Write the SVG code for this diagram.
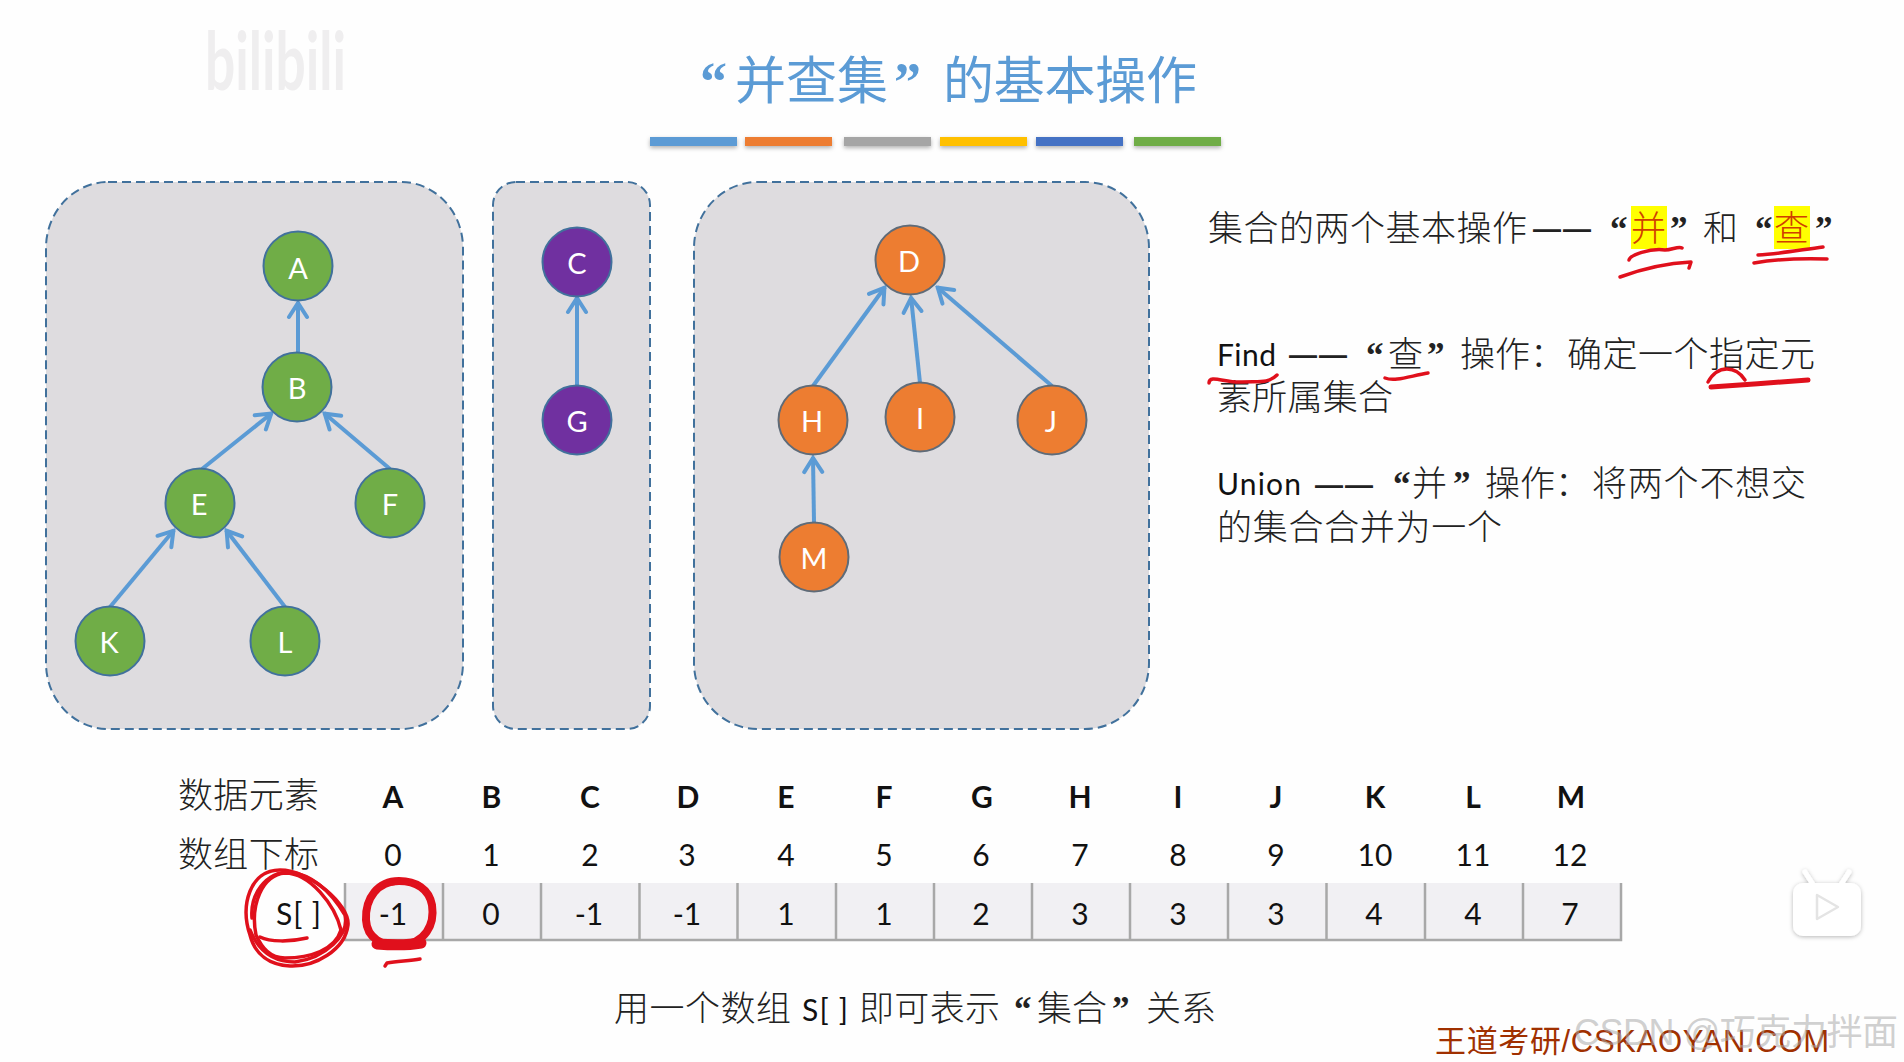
<svg xmlns="http://www.w3.org/2000/svg" width="1904" height="1062" viewBox="0 0 1904 1062">
<style>
.cjk{font-family:"Noto Sans CJK SC","Noto Sans",sans-serif;font-size:35px;font-weight:300;fill:#222}
.q{font-family:"Liberation Serif",serif;font-size:35px;font-weight:700;fill:#222}
.d{font-family:"Liberation Sans",sans-serif;font-size:28px;font-weight:700;letter-spacing:2px;fill:#222}
.lat{font-family:Lato,"Liberation Sans",sans-serif;font-size:30px;fill:#111}
.b{font-family:Lato,"Liberation Sans",sans-serif;font-size:30px;font-weight:700;fill:#111;text-anchor:middle}
.c{text-anchor:middle}
.title{font-family:"Noto Sans CJK SC",sans-serif;font-size:51px;fill:#5b9bd5}
.tq{font-family:"Liberation Serif",serif;font-size:54px;font-weight:700;fill:#5b9bd5}
.box{fill:#dedcdf;stroke:#41719c;stroke-width:2;stroke-dasharray:9 5}
.n{stroke:#41719c;stroke-width:2}
.g{fill:#70ad47}.p{fill:#7030a0}.o{fill:#ed7d31;stroke:#5f6b78}
.nt{font-family:Lato,"Liberation Sans",sans-serif;font-size:29px;fill:#fff;text-anchor:middle}
.e{fill:none;stroke:#5b9bd5;stroke-width:4;marker-end:url(#arr)}
.cell{fill:#f1f0f3}
.div{stroke:#a8a8a8;stroke-width:2.5;fill:none}
.red{fill:none;stroke:#e0101c;stroke-width:3.500;stroke-linecap:round;stroke-linejoin:round}
.bar{filter:url(#sh)}
.hi{fill:#d04000}
</style>
<defs>
<marker id="arr" markerUnits="userSpaceOnUse" viewBox="-18 -13 20 26" markerWidth="20" markerHeight="26" refX="0" refY="0" orient="auto"><path d="M-15,-9 L-1,0 L-15,9" fill="none" stroke="#5b9bd5" stroke-width="4" stroke-linecap="round"/></marker>
<filter id="sh" x="-10%" y="-50%" width="120%" height="220%"><feDropShadow dx="0" dy="2" stdDeviation="2" flood-color="#000" flood-opacity=".3"/></filter>
<filter id="sh2" x="-20%" y="-20%" width="140%" height="140%"><feDropShadow dx="0" dy="1" stdDeviation="2" flood-color="#000" flood-opacity=".28"/></filter>
</defs>
<rect width="1904" height="1062" fill="#fefefe"/>
<text x="205" y="90" font-family="Lato,sans-serif" font-size="80" font-weight="700" fill="#efeeef" textLength="141" lengthAdjust="spacingAndGlyphs">bilibili</text>

<g id="title">
<text class="tq" x="700" y="100">“</text>
<text class="title" x="735" y="99" textLength="153">并查集</text>
<text class="tq" x="894" y="100">”</text>
<text class="title" x="943" y="99" textLength="254">的基本操作</text>
</g>
<g id="bars">
<rect class="bar" x="650" y="137" width="87" height="9" fill="#5b9bd5"/>
<rect class="bar" x="745" y="137" width="87" height="9" fill="#ed7d31"/>
<rect class="bar" x="844" y="137" width="87" height="9" fill="#a5a5a5"/>
<rect class="bar" x="940" y="137" width="87" height="9" fill="#ffc000"/>
<rect class="bar" x="1036" y="137" width="87" height="9" fill="#4472c4"/>
<rect class="bar" x="1134" y="137" width="87" height="9" fill="#70ad47"/>
</g>

<g id="set1"><rect class="box" x="46" y="182" width="417" height="547" rx="62" ry="66"/></g>
<g id="set2"><rect class="box" x="493" y="182" width="157" height="547" rx="23" ry="23"/></g>
<g id="set3"><rect class="box" x="694" y="182" width="455" height="547" rx="64" ry="66"/></g>

<g id="connectors">
<path class="e" d="M298,353V302"/>
<path class="e" d="M202,469L272,413"/>
<path class="e" d="M390,469L324,413"/>
<path class="e" d="M110,607L174,530"/>
<path class="e" d="M285,607L226,530"/>
<path class="e" d="M577,385V297"/>
<path class="e" d="M813,386L885,287"/>
<path class="e" d="M920,383L911,297"/>
<path class="e" d="M1052,386L937,287"/>
<path class="e" d="M814,522L813,457"/>
</g>

<g id="node-A"><circle class="n g" cx="298" cy="266" r="34.500"/><text class="nt" x="298" y="279">A</text></g>
<g id="node-B"><circle class="n g" cx="297" cy="387" r="34.500"/><text class="nt" x="297" y="399">B</text></g>
<g id="node-E"><circle class="n g" cx="200" cy="503" r="34.500"/><text class="nt" x="199" y="515">E</text></g>
<g id="node-F"><circle class="n g" cx="390" cy="503" r="34.500"/><text class="nt" x="390" y="515">F</text></g>
<g id="node-K"><circle class="n g" cx="110" cy="641" r="34.500"/><text class="nt" x="109" y="653">K</text></g>
<g id="node-L"><circle class="n g" cx="285" cy="641" r="34.500"/><text class="nt" x="285" y="653">L</text></g>
<g id="node-C"><circle class="n p" cx="577" cy="262" r="34.500"/><text class="nt" x="577" y="274">C</text></g>
<g id="node-G"><circle class="n p" cx="577" cy="420" r="34.500"/><text class="nt" x="577" y="432">G</text></g>
<g id="node-D"><circle class="n o" cx="910" cy="260" r="34.500"/><text class="nt" x="909" y="272">D</text></g>
<g id="node-H"><circle class="n o" cx="813" cy="420" r="34.500"/><text class="nt" x="812" y="432">H</text></g>
<g id="node-I"><circle class="n o" cx="920" cy="417" r="34.500"/><text class="nt" x="920" y="429">I</text></g>
<g id="node-J"><circle class="n o" cx="1052" cy="420" r="34.500"/><text class="nt" x="1051" y="432">J</text></g>
<g id="node-M"><circle class="n o" cx="814" cy="557" r="34.500"/><text class="nt" x="814" y="569">M</text></g>

<g id="desc">
<rect x="1631" y="206" width="36" height="43" fill="#ffff00"/>
<rect x="1774" y="206" width="36" height="43" fill="#ffff00"/>
<text class="cjk" x="1208" y="241" textLength="319">集合的两个基本操作</text>
<text class="d" x="1533" y="238">——</text>
<text class="q" x="1610" y="241">“</text>
<text class="cjk hi" x="1631" y="241" style="fill:#d04000">并</text>
<text class="q" x="1670" y="241">”</text>
<text class="cjk" x="1703" y="241">和</text>
<text class="q" x="1755" y="241">“</text>
<text class="cjk hi" x="1774" y="241" style="fill:#d04000">查</text>
<text class="q" x="1815" y="241">”</text>

<text class="lat" x="1217" y="366" textLength="59">Find</text>
<text class="d" x="1289" y="364">——</text>
<text class="q" x="1366" y="367">“</text>
<text class="cjk" x="1388" y="367">查</text>
<text class="q" x="1427" y="367">”</text>
<text class="cjk" x="1460" y="367" textLength="70">操作</text>
<text class="cjk" x="1530" y="367">：</text>
<text class="cjk" x="1567" y="367" textLength="248">确定一个指定元</text>
<text class="cjk" x="1217" y="410" textLength="176">素所属集合</text>

<text class="lat" x="1217" y="495" textLength="84">Union</text>
<text class="d" x="1315" y="494">——</text>
<text class="q" x="1393" y="496">“</text>
<text class="cjk" x="1412" y="496">并</text>
<text class="q" x="1453" y="496">”</text>
<text class="cjk" x="1485" y="496" textLength="70">操作</text>
<text class="cjk" x="1555" y="496">：</text>
<text class="cjk" x="1592" y="496" textLength="214">将两个不想交</text>
<text class="cjk" x="1217" y="540" textLength="285">的集合合并为一个</text>
</g>

<g id="table">
<rect class="cell" x="345" y="883" width="1276" height="57"/>
<path class="div" d="M345,883V940H1621V883M443,883V940M541,883V940M639.500,883V940M737.500,883V940M836,883V940M934,883V940M1032,883V940M1130,883V940M1228,883V940M1326.500,883V940M1425,883V940M1523,883V940"/>
<text class="cjk" x="178" y="808" textLength="141">数据元素</text>
<text class="cjk" x="178" y="867" textLength="141">数组下标</text>
<text class="b" x="393" y="808">A</text><text class="b" x="491.500" y="808">B</text><text class="b" x="590" y="808">C</text><text class="b" x="688" y="808">D</text><text class="b" x="786" y="808">E</text><text class="b" x="884" y="808">F</text><text class="b" x="982" y="808">G</text><text class="b" x="1080" y="808">H</text><text class="b" x="1178" y="808">I</text><text class="b" x="1276" y="808">J</text><text class="b" x="1375" y="808">K</text><text class="b" x="1473" y="808">L</text><text class="b" x="1571" y="808">M</text>
<g class="lat c">
<text x="393" y="866">0</text><text x="491" y="866">1</text><text x="590" y="866">2</text><text x="687" y="866">3</text><text x="786" y="866">4</text><text x="884" y="866">5</text><text x="981" y="866">6</text><text x="1080" y="866">7</text><text x="1178" y="866">8</text><text x="1276" y="866">9</text><text x="1375" y="866">10</text><text x="1473" y="866">11</text><text x="1570" y="866">12</text>
<text x="393" y="925">-1</text><text x="491" y="925">0</text><text x="589" y="925">-1</text><text x="687" y="925">-1</text><text x="786" y="925">1</text><text x="884" y="925">1</text><text x="981" y="925">2</text><text x="1080" y="925">3</text><text x="1178" y="925">3</text><text x="1276" y="925">3</text><text x="1374" y="925">4</text><text x="1473" y="925">4</text><text x="1570" y="925">7</text>
</g>
<text class="lat" x="276" y="925" textLength="45">S[ ]</text>
</g>

<g id="caption">
<text class="cjk" x="614" y="1021" textLength="177">用一个数组</text>
<text class="lat" x="802" y="1021" textLength="46">S[ ]</text>
<text class="cjk" x="859" y="1021" textLength="141">即可表示</text>
<text class="q" x="1014" y="1021">“</text>
<text class="cjk" x="1037" y="1021" textLength="70">集合</text>
<text class="q" x="1112" y="1021">”</text>
<text class="cjk" x="1146" y="1021" textLength="70">关系</text>
</g>

<g id="ink">
<path class="red" d="M1629,260C1630,255 1650,248 1665,250C1672,250 1678,246 1682,248"/>
<path class="red" d="M1620,277C1650,266 1670,263 1691,262L1689,268"/>
<path class="red" d="M1758,255C1778,254 1800,250 1823,247"/>
<path class="red" d="M1754,263C1778,259 1800,258 1827,259"/>
<path class="red" d="M1209,383C1209,374 1225,383 1242,382C1258,381 1268,384 1277,375"/>
<path class="red" d="M1385,378C1395,382 1410,376 1428,373"/>
<path class="red" d="M1708,382C1718,364 1736,366 1745,380"/>
<path class="red" style="stroke-width:5" d="M1711,387C1740,385 1780,382 1808,380"/>
<path class="red" d="M250,935C240,905 250,870 280,870C310,870 350,905 348,925C345,950 315,967 290,966C270,965 255,955 250,935Z"/>
<path class="red" d="M256,935C250,905 262,875 285,873C310,873 335,905 341,930C335,950 310,958 285,958C270,958 262,948 256,935"/>
<path class="red" d="M252,918C250,895 265,872 290,872C312,875 330,890 345,915C350,935 325,958 295,962C272,962 258,950 250,930"/>
<path class="red" d="M260,937C270,942 290,942 307,938"/>
<path class="red" style="stroke-width:8" d="M399,881C378,881 365,898 366,920C367,938 382,947 402,945C425,943 435,925 432,905C429,889 416,881 399,881Z"/>
<path class="red" d="M392,884C410,878 425,886 431,902M380,888C390,881 405,880 415,884"/>
<path class="red" style="stroke-width:11" d="M377,944C390,945 410,945 421,943"/>
<path class="red" d="M385,966L387,963C398,961 410,961 420,959"/>
</g>

<text x="1435" y="1052" font-family="Liberation Sans,Noto Sans CJK SC,sans-serif" font-size="31" fill="#a03000" textLength="394">王道考研/CSKAOYAN.COM</text>
<text x="1574" y="1045" font-family="Liberation Sans,Noto Sans CJK SC,sans-serif" font-size="36" fill="#a8a8a8" fill-opacity=".55" textLength="324" font-weight="400">CSDN @巧克力拌面</text>

<g id="tv" filter="url(#sh2)">
<path d="M1814,886L1805,872M1840,886L1849,872" stroke="#fff" stroke-width="5" stroke-linecap="round"/>
<rect x="1793" y="883" width="68" height="53" rx="10" fill="#fff"/>
<path d="M1817,895L1838,907L1817,919Z" fill="#fff" stroke="#e4e4e4" stroke-width="2.500" stroke-linejoin="round"/>
</g>
</svg>
